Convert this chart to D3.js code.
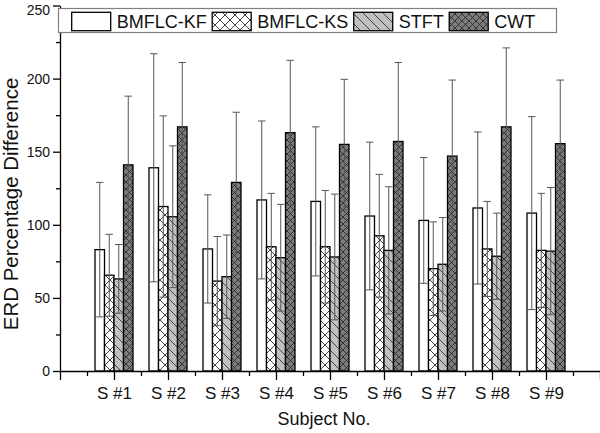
<!DOCTYPE html>
<html>
<head>
<meta charset="utf-8">
<script src="https://cdn.jsdelivr.net/npm/d3@7"></script>
<style>
  body { margin: 0; background: #fff; }
  svg { display: block; font-family: "Liberation Sans", Arial, sans-serif; }
</style>
</head>
<body>
<div id="chart"></div>
<script>
// data
const subjects = ["S #1", "S #2", "S #3", "S #4", "S #5", "S #6", "S #7", "S #8", "S #9"];
const methods = ["BMFLC-KF", "BMFLC-KS", "STFT", "CWT"];
const kfMean = [83, 139, 83.5, 117, 116, 106, 103, 111.5, 108];
const kfSd = [46, 78, 37, 54, 51, 50.5, 43, 52, 66];
const ksMean = [65.5, 112.5, 61.5, 85, 85, 92.5, 70, 83.5, 82.5];
const ksSd = [28, 62, 30.5, 36.5, 38.5, 42, 32, 32.5, 39];
const stftMean = [63, 105.5, 64.5, 77.5, 78, 82.5, 73, 78.5, 82];
const stftSd = [23.5, 48.5, 28.5, 36.5, 43, 43.5, 32, 29.5, 43.5];
const cwtMean = [141, 167, 129, 163, 155, 157, 147, 167, 155.5];
const cwtSd = [47, 44, 48, 49.5, 44.5, 54, 52, 54, 43.5];
const yTicks = [0, 50, 100, 150, 200, 250];

const means = [kfMean, ksMean, stftMean, cwtMean];
const sds = [kfSd, ksSd, stftSd, cwtSd];
const fills = ["#fff", "url(#pKS)", "url(#pSTFT)", "url(#pCWT)"];

const width = 600, height = 433;
const svg = d3.select("#chart").append("svg")
    .attr("width", width)
    .attr("height", height);

// hatch patterns
const defs = svg.append("defs");
function hatch(id, size, bg, path, col) {
    const p = defs.append("pattern")
        .attr("id", id)
        .attr("patternUnits", "userSpaceOnUse")
        .attr("width", size).attr("height", size);
    p.append("rect").attr("width", size).attr("height", size).attr("fill", bg);
    p.append("path").attr("d", path).attr("stroke", col).attr("stroke-width", 0.8).attr("fill", "none");
}
hatch("pKS", 10, "#fff", "M0,0L10,10M10,0L0,10", "#111");
hatch("pSTFT", 10, "#c0c0c0", "M0,0L10,10M-5,5L5,15M5,-5L15,5", "#222");
hatch("pCWT", 7, "#7c7c7c", "M0,0L7,7M7,0L0,7", "#222");

const x = d3.scaleLinear().domain([0, 10]).range([60, 600]);
const inner = d3.scaleBand().domain(d3.range(4)).range([-19, 19]);
const y = d3.scaleLinear().domain([0, 250]).range([371, 5.5]);

// flatten into rows
const rows = [];
subjects.forEach((s, i) => {
    methods.forEach((m, j) => {
        rows.push({ i: i, j: j, mean: means[j][i], sd: sds[j][i] });
    });
});

// bars
svg.append("g").selectAll("rect")
    .data(rows)
    .enter()
    .append("rect")
    .attr("x", d => x(d.i + 1) + inner(d.j))
    .attr("y", d => y(d.mean))
    .attr("width", inner.bandwidth())
    .attr("height", d => y(0) - y(d.mean))
    .attr("fill", d => fills[d.j])
    .attr("stroke", "#000")
    .attr("stroke-width", 1.3);

// error bars
const eb = svg.append("g").attr("stroke", "#555").attr("stroke-width", 1);
const cx = d => x(d.i + 1) + inner(d.j) + inner.bandwidth() / 2;
eb.selectAll("line.v").data(rows).enter().append("line")
    .attr("x1", cx).attr("x2", cx)
    .attr("y1", d => y(d.mean - d.sd))
    .attr("y2", d => y(d.mean + d.sd));
eb.selectAll("line.t").data(rows).enter().append("line")
    .attr("x1", d => cx(d) - 3.7).attr("x2", d => cx(d) + 3.7)
    .attr("y1", d => y(d.mean + d.sd))
    .attr("y2", d => y(d.mean + d.sd));
eb.selectAll("line.b").data(rows).enter().append("line")
    .attr("x1", d => cx(d) - 3.7).attr("x2", d => cx(d) + 3.7)
    .attr("y1", d => y(d.mean - d.sd))
    .attr("y2", d => y(d.mean - d.sd));

// y axis
const yAxis = svg.append("g")
    .attr("transform", "translate(60,0)")
    .call(d3.axisLeft(y).tickValues(yTicks).tickSize(7).tickSizeOuter(0).tickPadding(3));
svg.append("g")
    .attr("transform", "translate(60,0)")
    .call(d3.axisLeft(y).tickValues(d3.range(25, 250, 50)).tickSize(4).tickSizeOuter(0).tickFormat(""))
    .select(".domain").remove();
yAxis.selectAll("text").attr("font-size", 14).attr("fill", "#111").attr("font-family", null);
// top label would be clipped by the window edge, push it down a bit
yAxis.selectAll("text").filter(d => d === 250).attr("dy", "0.62em");

// x axis
const xAxis = svg.append("g")
    .attr("transform", "translate(0,371)")
    .call(d3.axisBottom(x).tickValues(d3.range(0, 11)).tickSize(9).tickSizeOuter(0).tickPadding(7)
        .tickFormat(d => (d >= 1 && d <= 9) ? subjects[d - 1] : ""));
svg.append("g")
    .attr("transform", "translate(0,371)")
    .call(d3.axisBottom(x).tickValues(d3.range(0.5, 10, 1)).tickSize(5).tickSizeOuter(0).tickFormat(""))
    .select(".domain").remove();
xAxis.selectAll("text").attr("font-size", 17).attr("fill", "#111").attr("font-family", null);

svg.selectAll(".domain, .tick line").attr("stroke", "#000").attr("stroke-width", 1.3);

// axis titles
svg.append("text")
    .attr("x", 324).attr("y", 425)
    .attr("text-anchor", "middle")
    .attr("font-size", 18).attr("fill", "#111")
    .text("Subject No.");
svg.append("text")
    .attr("transform", "translate(18,204) rotate(-90)")
    .attr("text-anchor", "middle")
    .attr("font-size", 20.5).attr("fill", "#111")
    .text("ERD Percentage Difference");

// legend
const legend = svg.append("g");
legend.append("rect")
    .attr("x", 58.5).attr("y", 8.5)
    .attr("width", 498).attr("height", 24)
    .attr("fill", "#fff").attr("stroke", "#808080").attr("stroke-width", 1.2);
let lx = 71.7;
methods.forEach((m, j) => {
    legend.append("rect")
        .attr("x", lx).attr("y", 12.3)
        .attr("width", 39).attr("height", 18.4)
        .attr("fill", fills[j])
        .attr("stroke", "#000").attr("stroke-width", 1.3);
    const t = legend.append("text")
        .attr("x", lx + 45).attr("y", 28.3)
        .attr("font-size", 18).attr("fill", "#111")
        .text(m);
    lx = lx + 45 + t.node().getComputedTextLength() + 5.5;
});
</script>
</body>
</html>
